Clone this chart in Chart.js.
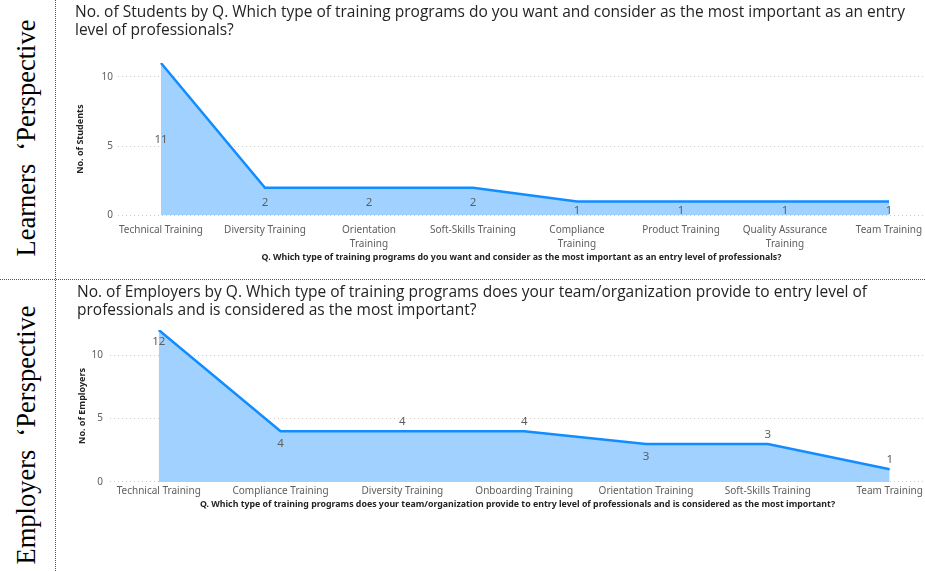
<!DOCTYPE html>
<html>
<head>
<meta charset="utf-8">
<script src="https://cdn.jsdelivr.net/npm/chart.js@4.4.0/dist/chart.umd.min.js"></script>
<style>
  body { margin: 0; width: 925px; height: 571px; background: #fff; position: relative; overflow: hidden; }
  .vline { position: absolute; left: 55px; top: 0; height: 571px; border-left: 1px dotted #555; }
  .hline { position: absolute; left: 0; top: 279px; width: 925px; border-top: 1px dotted #555; }
  .side {
    position: absolute; left: 26px; white-space: pre; color: #000;
    font: 26.5px "Liberation Serif", "Times New Roman", serif;
    transform: translate(-50%, -50%) rotate(-90deg);
  }
  canvas { position: absolute; left: 57px; }
</style>
</head>
<body>
<div class="vline"></div>
<div class="hline"></div>
<div class="side" style="top:138px">Learners  ‘Perspective</div>
<div class="side" style="top:435px">Employers  ‘Perspective</div>
<canvas id="learners" width="868" height="278" style="top:0"></canvas>
<canvas id="employers" width="868" height="290" style="top:281px"></canvas>
<script>
// students' answers
const learnerCategories = ['Technical Training', 'Diversity Training', 'Orientation Training', 'Soft-Skills Training',
  'Compliance Training', 'Product Training', 'Quality Assurance Training', 'Team Training'];
const learnerCounts = [11, 2, 2, 2, 1, 1, 1, 1];
const learnerTickLabels = ['Technical Training', 'Diversity Training', ['Orientation', 'Training'], 'Soft-Skills Training',
  ['Compliance', 'Training'], 'Product Training', ['Quality Assurance', 'Training'], 'Team Training'];

// employers' answers
const employerCategories = ['Technical Training', 'Compliance Training', 'Diversity Training', 'Onboarding Training',
  'Orientation Training', 'Soft-Skills Training', 'Team Training'];
const employerCounts = [12, 4, 4, 4, 3, 3, 1];
const employerTickLabels = employerCategories;

const yTickValues = [0, 5, 10];

const BLUE = '#118dff';
const FILL = '#a0d1ff';
const GREY = '#605e5c';
const DARK = '#252423';
const SANS = '"Noto Sans", "Open Sans", sans-serif';

// value labels next to each point
const pointLabels = {
  id: 'pointLabels',
  afterDatasetsDraw(chart, args, opts) {
    const ctx = chart.ctx;
    const ds = chart.data.datasets[0];
    ctx.save();
    ctx.font = '11.5px ' + SANS;
    ctx.fillStyle = GREY;
    ctx.textAlign = 'center';
    ctx.textBaseline = 'middle';
    chart.getDatasetMeta(0).data.forEach((pt, i) => {
      ctx.fillText(String(ds.data[i].y), pt.x, pt.y + opts.offsets[i]);
    });
    ctx.restore();
  }
};

function areaChart(id, cfg) {
  const points = cfg.values.map((v, i) => ({ x: i, y: v }));
  return new Chart(document.getElementById(id), {
    type: 'line',
    data: {
      datasets: [{
        label: cfg.yTitle,
        data: points,
        borderColor: BLUE,
        borderWidth: 2.5,
        backgroundColor: FILL,
        fill: 'origin',
        tension: 0,
        pointRadius: 0
      }]
    },
    options: {
      responsive: false,
      animation: false,
      layout: { padding: { left: cfg.padLeft, right: 0, top: 0, bottom: cfg.padBottom } },
      plugins: {
        legend: { display: false },
        tooltip: { enabled: false },
        title: {
          display: true,
          text: cfg.title,
          align: 'start',
          color: DARK,
          font: { family: '"Open Sans", sans-serif', size: 15.5, weight: 'normal', lineHeight: '18px' },
          padding: { top: cfg.titleTop, bottom: cfg.titleBottom }
        },
        pointLabels: { offsets: cfg.labelOffsets }
      },
      scales: {
        x: {
          type: 'linear',
          min: cfg.xMin,
          max: cfg.xMax,
          afterBuildTicks: s => { s.ticks = cfg.ticks.map((_, i) => ({ value: i })); },
          afterFit: s => { s.paddingLeft = 0; s.paddingRight = 0; },
          grid: { display: false, drawTicks: false },
          border: { display: false },
          ticks: {
            callback: v => cfg.ticks[v],
            autoSkip: false,
            maxRotation: 0,
            padding: cfg.tickPad,
            color: GREY,
            font: { family: SANS, size: 10, lineHeight: 1.4 }
          },
          title: {
            display: true,
            text: cfg.xTitle,
            color: DARK,
            font: { family: SANS, size: 8.8, weight: 'bold', lineHeight: 1.2 },
            padding: { top: cfg.xTitlePad, bottom: 0 }
          }
        },
        y: {
          min: 0,
          max: cfg.yMax,
          afterBuildTicks: s => { s.ticks = yTickValues.map(v => ({ value: v })); },
          afterFit: s => { s.width = cfg.yWidth; },
          grid: { color: '#cccccc', drawTicks: false },
          border: { display: false, dash: [1, 3] },
          ticks: { padding: cfg.yTickPad, color: GREY, font: { family: SANS, size: 10 } },
          title: {
            display: true,
            text: cfg.yTitle,
            color: DARK,
            font: { family: SANS, size: 9, weight: 'bold', lineHeight: 1.2 },
            padding: { top: 0, bottom: 0 }
          }
        }
      }
    },
    plugins: [pointLabels]
  });
}

areaChart('learners', {
  values: learnerCounts,
  ticks: learnerTickLabels,
  title: ['No. of Students by Q. Which type of training programs do you want and consider as the most important as an entry',
    'level of professionals?'],
  xTitle: 'Q. Which type of training programs do you want and consider as the most important as an entry level of professionals?',
  yTitle: 'No. of Students',
  yMax: 11,
  xMin: -0.413, xMax: 7.346,
  padLeft: 18, yWidth: 43, yTickPad: 5,
  titleTop: 4, titleBottom: 23,
  tickPad: 8, xTitlePad: -7, padBottom: 15,
  labelOffsets: [77, 15, 15, 15, 9, 9, 9, 9]
});

areaChart('employers', {
  values: employerCounts,
  ticks: employerTickLabels,
  title: ['No. of Employers by Q. Which type of training programs does your team/organization provide to entry level of',
    'professionals and is considered as the most important?'],
  xTitle: 'Q. Which type of training programs does your team/organization provide to entry level of professionals and is considered as the most important?',
  yTitle: 'No. of Employers',
  yMax: 12,
  xMin: -0.4, xMax: 6.29,
  padLeft: 20, yWidth: 33, yTickPad: 7,
  titleTop: 3, titleBottom: 10,
  tickPad: 2, xTitlePad: -0.5, padBottom: 61,
  labelOffsets: [12, 12, -9.5, -9.5, 12.5, -9.5, -9.5]
});
</script>
</body>
</html>
